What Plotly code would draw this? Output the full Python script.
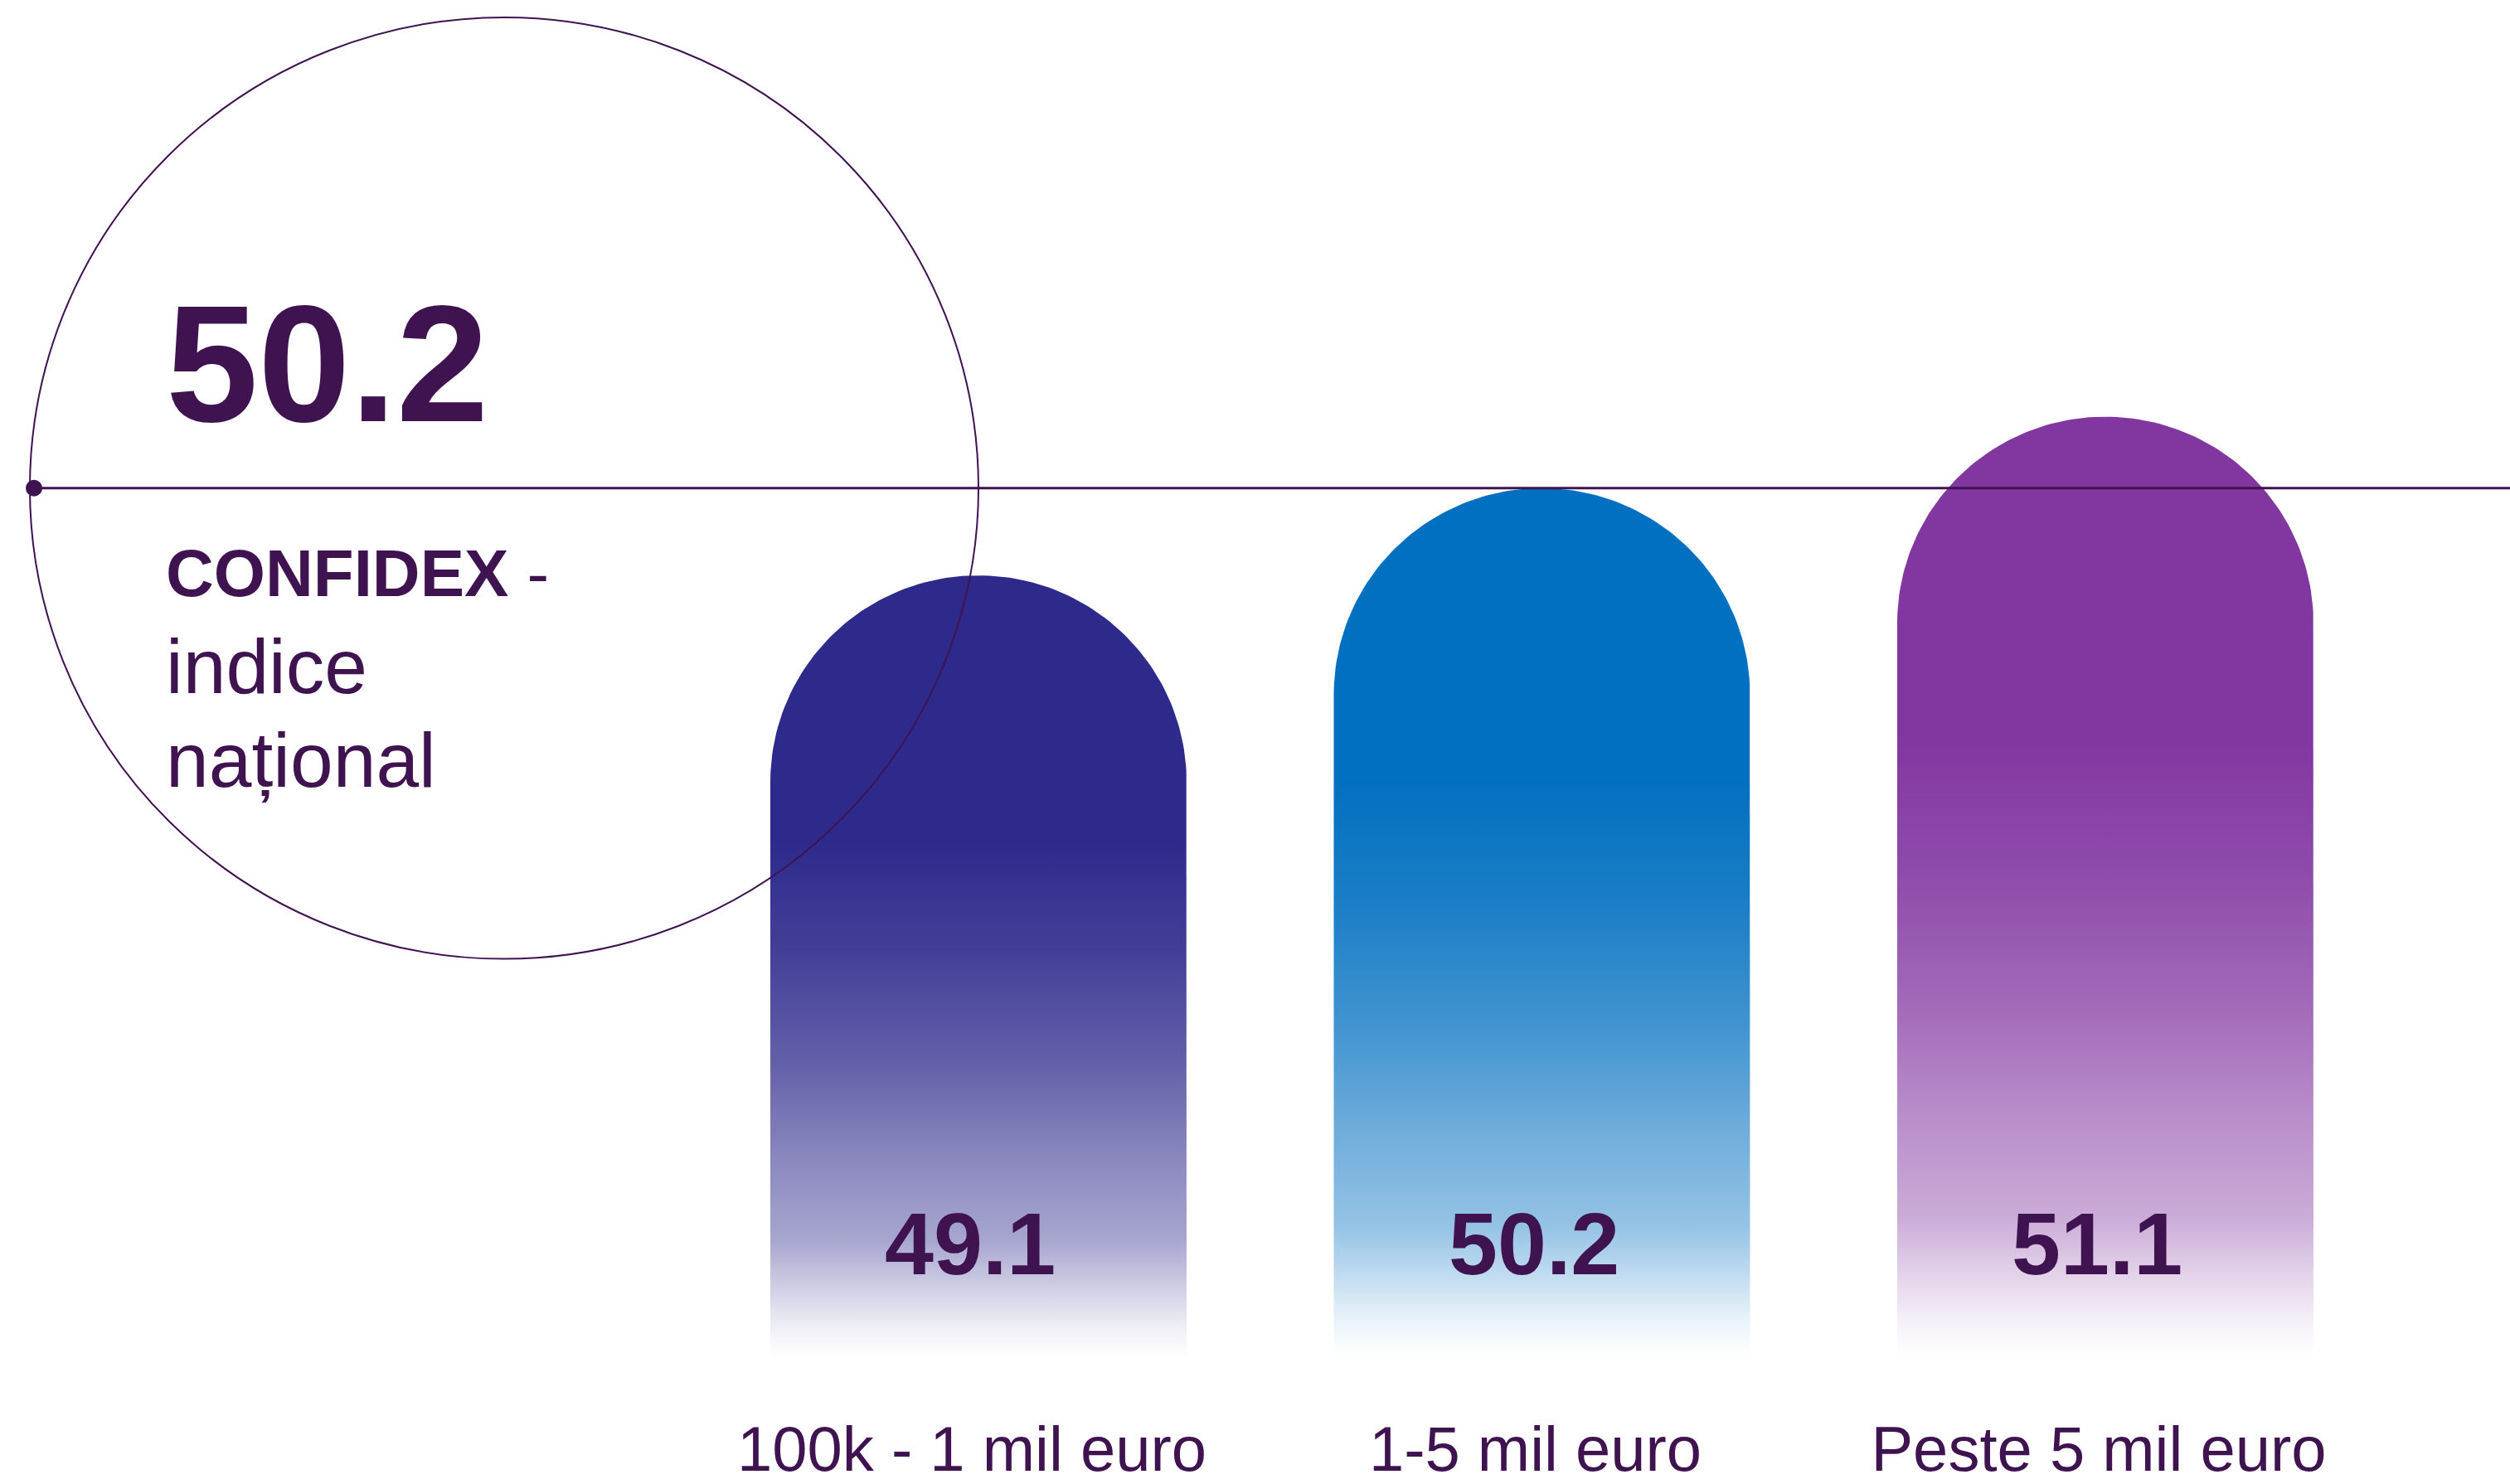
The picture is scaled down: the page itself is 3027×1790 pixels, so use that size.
import numpy as np
import plotly.graph_objects as go

# ---------------- data ----------------
categories = ["100k - 1 mil euro", "1-5 mil euro", "Peste 5 mil euro"]
values = [49.1, 50.2, 51.1]
national_value = 50.2
national_title = "CONFIDEX"
national_lines = ["indice", "național"]

# ---------------- layout constants ----------------
W, H = 3027, 1790
MARGIN_B = 141
PLOT_H = H - MARGIN_B
Y_MIN, Y_MAX = 39.25, 56.35
PX_PER_CAT = 679.5
X0_PX = 1180.0                      # pixel position of first category
X_MIN = -X0_PX / PX_PER_CAT
X_MAX = (W - X0_PX) / PX_PER_CAT
PX_PER_Y = PLOT_H / (Y_MAX - Y_MIN)

BAR_W_PX = 502
R_PX = BAR_W_PX / 2

TEXT_COLOR = "#3E1350"
BAR_COLORS = [(46, 42, 140), (2, 112, 192), (130, 54, 160)]
FONT = "Liberation Sans, Arial, sans-serif"

# gradient profile (fraction from bottom -> opacity of bar colour over white)
GRAD = [(0.0, 0.0), (0.04, 0.08), (0.08, 0.2), (0.15, 0.42), (0.26, 0.57),
        (0.38, 0.75), (0.52, 0.9), (0.66, 1.0), (1.0, 1.0)]


def mix(c, t):
    return "rgb(%d,%d,%d)" % tuple(round(255 - t * (255 - v)) for v in c)


def px_x(px):
    return X_MIN + px / PX_PER_CAT


fig = go.Figure()

rx = R_PX / PX_PER_CAT
ry = R_PX / PX_PER_Y
theta = np.linspace(0, np.pi, 121)
for i, (v, col) in enumerate(zip(values, BAR_COLORS)):
    xs = list(i + rx * np.cos(theta))
    ys = list((v - ry) + ry * np.sin(theta))
    xs = [i + rx] + xs + [i - rx, i + rx]
    ys = [Y_MIN] + ys + [Y_MIN, Y_MIN]
    fig.add_trace(go.Scatter(
        x=xs, y=ys, mode="lines", fill="toself",
        line=dict(width=0, color="rgba(0,0,0,0)"),
        fillgradient=dict(type="vertical",
                          colorscale=[[f, mix(col, t)] for f, t in GRAD]),
        hoverinfo="skip", showlegend=False,
    ))

# national marker dot
fig.add_trace(go.Scatter(
    x=[px_x(41)], y=[national_value], mode="markers",
    marker=dict(size=20, color=TEXT_COLOR), hoverinfo="skip",
    showlegend=False, cliponaxis=False,
))

# circle around national index
cr_x = 572 / PX_PER_CAT
cr_y = 572 / PX_PER_Y
ccx = px_x(608)
fig.add_shape(type="circle", xref="x", yref="y",
              x0=ccx - cr_x, x1=ccx + cr_x,
              y0=national_value - cr_y, y1=national_value + cr_y,
              line=dict(color=TEXT_COLOR, width=2), layer="above")
# national reference line
fig.add_shape(type="line", xref="x", yref="y",
              x0=px_x(41), x1=X_MAX, y0=national_value, y1=national_value,
              line=dict(color=TEXT_COLOR, width=3), layer="above")

# big national value
fig.add_annotation(x=px_x(198), y=national_value + (593 - 442) / PX_PER_Y,
                   xref="x", yref="y", xanchor="left", yanchor="middle",
                   text=f"{national_value:.1f}", showarrow=False,
                   font=dict(family=FONT, size=200, color=TEXT_COLOR, weight=700))
fig.add_annotation(x=px_x(198), y=national_value - (697 - 593) / PX_PER_Y,
                   xref="x", yref="y", xanchor="left", yanchor="middle",
                   text=f"<b>{national_title}</b> -", showarrow=False,
                   font=dict(family=FONT, size=80, color=TEXT_COLOR))
for k, line in enumerate(national_lines):
    fig.add_annotation(x=px_x(198), y=national_value - (810 - 593 + 114 * k) / PX_PER_Y,
                       xref="x", yref="y", xanchor="left", yanchor="middle",
                       text=line, showarrow=False,
                       font=dict(family=FONT, size=93, color=TEXT_COLOR))

# value labels inside bars
for i, v in enumerate(values):
    fig.add_annotation(x=i - 10 / PX_PER_CAT, y=Y_MIN + (PLOT_H - 1511) / PX_PER_Y,
                       xref="x", yref="y", xanchor="center", yanchor="middle",
                       text=f"{v:.1f}", showarrow=False,
                       font=dict(family=FONT, size=106, color=TEXT_COLOR, weight=700))

fig.update_layout(
    width=W, height=H,
    margin=dict(l=0, r=0, t=0, b=MARGIN_B, pad=0),
    paper_bgcolor="white", plot_bgcolor="white",
    showlegend=False,
    xaxis=dict(range=[X_MIN, X_MAX], tickvals=list(range(len(categories))),
               ticktext=categories, showgrid=False, zeroline=False,
               showline=False, ticks="", ticklabelstandoff=60,
               ticklabelshift=-8,
               tickfont=dict(family=FONT, size=76, color=TEXT_COLOR),
               fixedrange=True),
    yaxis=dict(range=[Y_MIN, Y_MAX], visible=False, fixedrange=True),
)

fig.write_html(
    "out.html",
    config={"displayModeBar": False, "staticPlot": True},
    post_script="document.body.style.margin='0';document.body.style.overflow='hidden';",
)
